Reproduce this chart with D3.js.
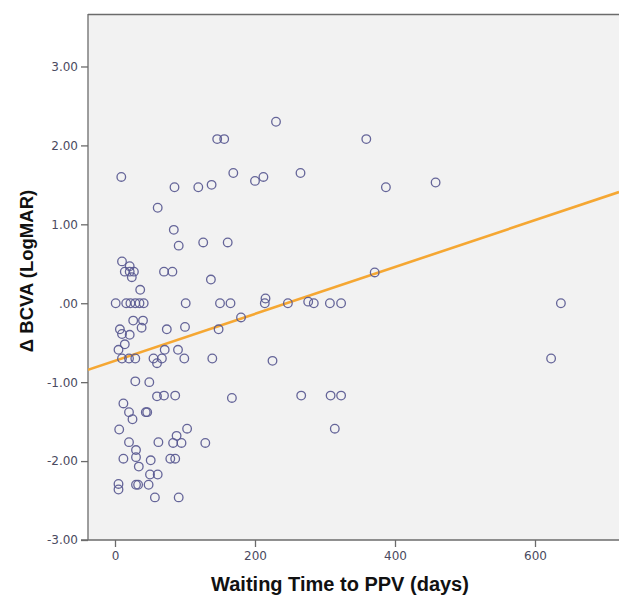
<!DOCTYPE html>
<html><head><meta charset="utf-8">
<script src="https://cdn.jsdelivr.net/npm/d3@7/dist/d3.min.js"></script>
<style>body{margin:0;background:#fff}svg{display:block}</style>
</head><body>
<script>
// Data
const waitDays = [230,146,156,359,9,169,265,200,212,85,119,138,387,458,61,84,91,126,161,10,
  21,14,21,27,24,70,82,137,36,1,16,22,29,35,41,101,150,165,215,214,
  247,276,284,307,323,371,637,180,26,40,74,7,10,21,38,100,148,14,5,10,
  20,29,55,60,67,71,90,99,139,225,623,29,49,60,70,86,167,266,308,323,
  12,20,25,44,46,6,103,314,88,20,62,83,95,129,30,30,12,34,51,79,
  86,50,61,5,5,30,33,48,57,91];
const deltaBCVA = [2.30,2.08,2.08,2.08,1.60,1.65,1.65,1.55,1.60,1.47,1.47,1.50,1.47,1.53,1.21,0.93,0.73,0.77,0.77,0.53,
  0.47,0.40,0.40,0.40,0.33,0.40,0.40,0.30,0.17,0,0,0,0,0,0,0,0,0,0.06,0,
  0,0.02,0,0,0,0.39,0,-0.18,-0.22,-0.22,-0.33,-0.33,-0.39,-0.40,-0.31,-0.30,-0.33,-0.52,-0.59,-0.70,
  -0.70,-0.70,-0.70,-0.76,-0.70,-0.59,-0.59,-0.70,-0.70,-0.73,-0.70,-0.99,-1.00,-1.18,-1.17,-1.17,-1.20,-1.17,-1.17,-1.17,
  -1.27,-1.38,-1.47,-1.38,-1.38,-1.60,-1.59,-1.59,-1.68,-1.76,-1.76,-1.77,-1.77,-1.77,-1.86,-1.95,-1.97,-2.07,-1.99,-1.97,
  -1.97,-2.17,-2.17,-2.29,-2.36,-2.30,-2.30,-2.30,-2.46,-2.46];
const xTicks = [0, 200, 400, 600];
const yTicks = [-3, -2, -1, 0, 1, 2, 3];
const yTickLabels = ["-3.00","-2.00","-1.00",".00","1.00","2.00","3.00"];
const fitIntercept = -0.729;
const fitSlope = 0.00297;
const xDomain = [-38.57, 720];
const yDomain = [-3, 3.665];

const W = 619, H = 596;
const m = {left: 88, top: 14, right: 0, bottom: 56};
const svg = d3.select("body").append("svg").attr("width", W).attr("height", H);

const x = d3.scaleLinear().domain(xDomain).range([m.left, W - m.right]);
const y = d3.scaleLinear().domain(yDomain).range([H - m.bottom, m.top]);

svg.append("rect").attr("x", m.left).attr("y", m.top)
  .attr("width", W - m.right - m.left).attr("height", H - m.bottom - m.top)
  .attr("fill", "#f2f2f2");

svg.append("defs").append("clipPath").attr("id", "clip")
  .append("rect").attr("x", m.left).attr("y", m.top)
  .attr("width", W - m.right - m.left).attr("height", H - m.bottom - m.top);

// top border
svg.append("line").attr("x1", m.left).attr("x2", W).attr("y1", m.top + 0.5).attr("y2", m.top + 0.5)
  .attr("stroke", "#6b6b6b").attr("stroke-width", 1.3);

const tickColor = "#4a4a60";
const xAxis = svg.append("g").attr("transform", `translate(0,${H - m.bottom})`)
  .call(d3.axisBottom(x).tickValues(xTicks).tickSize(7).tickPadding(4).tickFormat(d3.format("d")));
const yAxis = svg.append("g").attr("transform", `translate(${m.left},0)`)
  .call(d3.axisLeft(y).tickValues(yTicks).tickSize(7).tickPadding(3)
    .tickFormat(d => yTickLabels[yTicks.indexOf(d)]));
[xAxis, yAxis].forEach(g => {
  g.select(".domain").attr("stroke", "#6b6b6b").attr("stroke-width", 1.3);
  g.selectAll(".tick line").attr("stroke", "#6b6b6b").attr("stroke-width", 1.3);
  g.selectAll(".tick text").attr("fill", tickColor)
    .style("font-family", "'DejaVu Sans', sans-serif").style("font-size", "12px");
});
yAxis.select(".domain").attr("d", `M0,${m.top}V${H - m.bottom}`);
xAxis.select(".domain").attr("d", `M${m.left - 7},0H${W}`);

// regression line
const plot = svg.append("g").attr("clip-path", "url(#clip)");
plot.append("line")
  .attr("x1", x(xDomain[0])).attr("y1", y(fitIntercept + fitSlope * xDomain[0]))
  .attr("x2", x(xDomain[1])).attr("y2", y(fitIntercept + fitSlope * xDomain[1]))
  .attr("stroke", "#f5a733").attr("stroke-width", 2.6);

// points
plot.selectAll("circle").data(waitDays.map((d, i) => [d, deltaBCVA[i]]))
  .join("circle")
  .attr("cx", d => x(d[0])).attr("cy", d => y(d[1])).attr("r", 4.3)
  .attr("fill", "none").attr("stroke", "#55558f").attr("stroke-width", 1.3).attr("stroke-opacity", 0.9);

// axis titles
svg.append("text").attr("x", 340).attr("y", 591).attr("text-anchor", "middle")
  .style("font-family", "'Liberation Sans', Arial, sans-serif").style("font-weight", "bold")
  .style("font-size", "20px").attr("fill", "#111").text("Waiting Time to PPV (days)");
svg.append("text").attr("transform", "translate(33,271) rotate(-90)").attr("text-anchor", "middle")
  .style("font-family", "'Liberation Sans', Arial, sans-serif").style("font-weight", "bold")
  .style("font-size", "18.5px").attr("fill", "#111").text("\u0394 BCVA (LogMAR)");
</script>
</body></html>
